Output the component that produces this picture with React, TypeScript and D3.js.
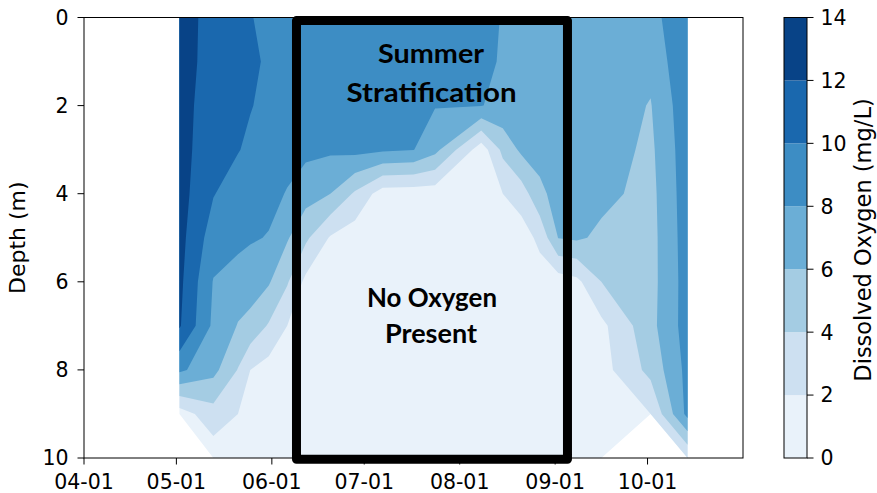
import React from 'react';
import * as d3 from 'd3';

// sampling dates of the depth profiles
const profileDates = [
  "2019-05-02", "2019-05-13", "2019-05-21", "2019-05-25", "2019-05-31",
  "2019-06-06", "2019-06-12", "2019-06-20", "2019-06-28", "2019-07-07",
  "2019-07-17", "2019-07-24", "2019-08-08", "2019-08-15", "2019-08-21",
  "2019-08-27", "2019-09-02", "2019-09-08", "2019-09-16", "2019-10-02",
  "2019-10-14",
];

const depths = [0, 1, 2, 3, 4, 5, 6, 7, 8, 9, 10];

// dissolved oxygen (mg/L), one row per profile, one value per depth (null = not sampled)
const oxygen: (number | null)[][] = [
  [13.0, 13.0, 12.9, 12.9, 12.8, 12.7, 12.5, 12.2, 8.4, 1.0, null],
  [11.2, 11.1, 10.8, 10.5, 10.1, 9.0, 7.9, 7.6, 6.6, 3.2, 0.8],
  [10.8, 10.7, 10.4, 10.1, 9.0, 8.6, 7.0, 5.9, 3.9, 2.0, 1.0],
  [10.2, 10.4, 10.1, 9.6, 8.9, 8.2, 6.9, 5.4, 2.0, 1.2, 0.8],
  [9.0, 9.7, 9.5, 9.0, 8.5, 7.9, 6.2, 3.8, 1.2, 0.9, 0.8],
  [9.2, 9.1, 9.0, 8.6, 7.9, 6.2, 4.2, 2.0, 1.0, 0.8, 0.7],
  [9.2, 9.1, 9.0, 8.5, 6.8, 4.4, 1.5, 0.9, 0.8, 0.7, 0.7],
  [9.1, 9.0, 8.9, 8.3, 6.0, 1.8, 0.8, 0.7, 0.7, 0.7, 0.7],
  [9.1, 9.0, 8.9, 8.6, 3.7, 0.9, 0.7, 0.7, 0.7, 0.7, 0.7],
  [9.0, 8.9, 8.8, 8.3, 1.0, 0.7, 0.6, 0.6, 0.6, 0.6, 0.6],
  [8.9, 8.8, 8.6, 8.05, 0.9, 0.6, 0.6, 0.6, 0.6, 0.6, 0.6],
  [8.7, 8.6, 8.1, 6.6, 0.9, 0.6, 0.6, 0.6, 0.6, 0.6, 0.6],
  [8.6, 8.5, 8.05, 0.9, 0.6, 0.6, 0.6, 0.6, 0.6, 0.6, 0.6],
  [7.9, 7.8, 7.6, 4.5, 2.0, 0.8, 0.6, 0.6, 0.6, 0.6, 0.6],
  [7.8, 7.7, 7.5, 6.4, 3.0, 1.0, 0.7, 0.6, 0.6, 0.6, 0.6],
  [7.7, 7.6, 7.4, 6.8, 5.5, 2.5, 1.0, 0.7, 0.6, 0.6, 0.6],
  [7.6, 7.5, 7.4, 7.2, 6.8, 6.05, 1.0, 0.7, 0.6, 0.6, 0.6],
  [7.5, 7.4, 7.3, 7.2, 7.0, 6.3, 1.5, 0.8, 0.6, 0.6, 0.6],
  [7.2, 7.1, 7.0, 6.9, 6.5, 5.6, 4.0, 1.5, 1.2, 1.0, 0.9],
  [7.2, 6.5, 5.9, 5.6, 5.4, 5.3, 5.3, 5.4, 4.6, 2.0, null],
  [9.9, 9.8, 9.4, 9.2, 9.1, 9.0, 8.9, 8.9, 8.6, 8.6, 2.0],
];

const levels = [0, 2, 4, 6, 8, 10, 12, 14];
const monthTicks = ["2019-04-01", "2019-05-01", "2019-06-01", "2019-07-01", "2019-08-01", "2019-09-01", "2019-10-01"];
const depthTicks = [0, 2, 4, 6, 8, 10];
const xDomain = ["2019-04-01", "2019-11-01"];

// highlighted summer window
const boxDates = ["2019-06-09", "2019-09-05"];
const boxDepths = [0.07, 10.03];

// matplotlib "Blues"
const bluesStops = ["#f7fbff", "#deebf7", "#c6dbef", "#9ecae1", "#6baed6", "#4292c6", "#2171b5", "#08519c", "#08306b"];

const FONT = "'DejaVu Sans', sans-serif";

export default function App() {
  const left = 84, right = 743, top = 17.5, bottom = 458;
  const cbLeft = 784, cbRight = 807;

  const x = d3.scaleUtc().domain(xDomain.map(d => new Date(d))).range([left, right]);
  const y = d3.scaleLinear().domain([0, 10]).range([top, bottom]);
  const cb = d3.scaleLinear().domain([levels[0], levels[levels.length - 1]]).range([bottom, top]);

  const blues = d3.scaleLinear<string>()
    .domain(bluesStops.map((_, i) => i / (bluesStops.length - 1)))
    .range(bluesStops)
    .interpolate(d3.interpolateRgb);
  const lo = levels[0], hi = levels[levels.length - 1];
  const bandColor = (k: number) => blues(((levels[k] + levels[k + 1]) / 2 - lo) / (hi - lo));

  const nx = profileDates.length, ny = depths.length;
  const values: number[] = [];
  for (let j = 0; j < ny; j++)
    for (let i = 0; i < nx; i++) {
      const v = oxygen[i][j];
      values.push(v == null ? NaN : v);
    }

  const px = profileDates.map(d => x(new Date(d)));
  const py = depths.map(d => y(d));
  // grid coords from d3.contours -> sample position -> pixels
  const interp = (arr: number[], c: number) => {
    const s = Math.max(0, Math.min(arr.length - 1, c - 0.5));
    const i = Math.min(arr.length - 2, Math.floor(s));
    const f = s - i;
    return arr[i] * (1 - f) + arr[i + 1] * f;
  };

  const contours = d3.contours().size([nx, ny]).thresholds(levels.slice(0, -1))(values);
  const toPath = (coords: number[][][][]) =>
    coords.map(poly => poly.map(ring =>
      ring.map(([cx, cy], i) => `${i ? "L" : "M"}${interp(px, cx).toFixed(2)},${interp(py, cy).toFixed(2)}`).join("") + "Z"
    ).join("")).join("");

  const bx0 = x(new Date(boxDates[0])), bx1 = x(new Date(boxDates[1]));
  const by0 = y(boxDepths[0]), by1 = y(boxDepths[1]);
  const fmt = d3.utcFormat("%m-%d");

  return (
    <svg width={877} height={493} style={{ position: "absolute", left: 0, top: 0, background: "#fff" }}>
      {contours.map((c, k) => (
        <path key={k} d={toPath(c.coordinates as any)} fill={bandColor(k)} fillRule="evenodd" stroke="none" />
      ))}

      {/* axes frame */}
      <rect x={left} y={top} width={right - left} height={bottom - top} fill="none" stroke="#000" strokeWidth={1} />

      {/* y axis */}
      {depthTicks.map(t => (
        <g key={t}>
          <line x1={left - 6.5} x2={left} y1={y(t)} y2={y(t)} stroke="#000" strokeWidth={1} />
          <text x={68.5} y={y(t)} dy="0.36em" textAnchor="end" fontFamily={FONT} fontSize={20.5}>{t}</text>
        </g>
      ))}
      <text transform={`translate(25,${(top + bottom) / 2}) rotate(-90)`} textAnchor="middle" fontFamily={FONT} fontSize={22}>Depth (m)</text>

      {/* x axis */}
      {monthTicks.map(t => {
        const xx = x(new Date(t));
        return (
          <g key={t}>
            <line x1={xx} x2={xx} y1={bottom} y2={bottom + 6.5} stroke="#000" strokeWidth={1} />
            <text x={xx} y={489} textAnchor="middle" fontFamily={FONT} fontSize={20.5}>{fmt(new Date(t))}</text>
          </g>
        );
      })}

      {/* summer box */}
      <rect x={bx0} y={by0} width={bx1 - bx0} height={by1 - by0} fill="none" stroke="#000" strokeWidth={9} strokeLinejoin="round" />

      <g fontFamily="Lato, 'Open Sans', sans-serif" fontWeight="bold" fontSize={26} textAnchor="middle" fill="#000">
        <text x={431} y={63.3} textLength={106} lengthAdjust="spacingAndGlyphs">Summer</text>
        <text x={431.5} y={101.7} textLength={170} lengthAdjust="spacingAndGlyphs">Stratification</text>
        <text x={432} y={307} textLength={130} lengthAdjust="spacingAndGlyphs">No Oxygen</text>
        <text x={431} y={343} textLength={92} lengthAdjust="spacingAndGlyphs">Present</text>
      </g>

      {/* colorbar */}
      {levels.slice(0, -1).map((l, k) => (
        <rect key={l} x={cbLeft} width={cbRight - cbLeft} y={cb(levels[k + 1])} height={cb(l) - cb(levels[k + 1])} fill={bandColor(k)} />
      ))}
      <rect x={cbLeft} y={top} width={cbRight - cbLeft} height={bottom - top} fill="none" stroke="#000" strokeWidth={1} />
      {levels.map(l => (
        <g key={l}>
          <line x1={cbRight} x2={cbRight + 6.5} y1={cb(l)} y2={cb(l)} stroke="#000" strokeWidth={1} />
          <text x={820.5} y={cb(l)} dy="0.36em" fontFamily={FONT} fontSize={20.5}>{l}</text>
        </g>
      ))}
      <text transform={`translate(870.5,240) rotate(-90)`} textAnchor="middle" fontFamily={FONT} fontSize={22.5}>Dissolved Oxygen (mg/L)</text>
    </svg>
  );
}
